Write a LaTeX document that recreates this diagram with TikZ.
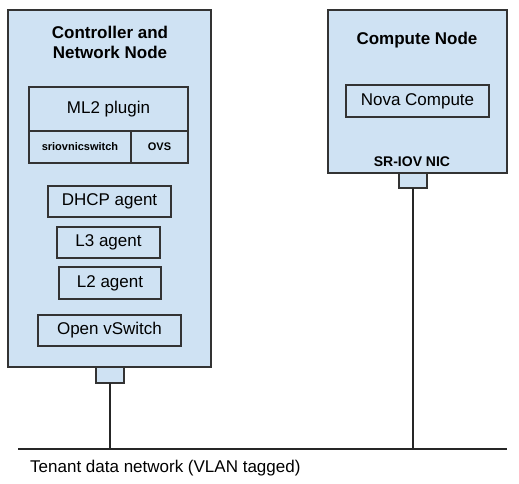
\documentclass[tikz,border=0pt]{standalone}
\usepackage{fontspec}
\setmainfont{Liberation Sans}
\begin{document}
\begin{tikzpicture}[x=1pt,y=-1pt,
  box/.style={draw=black!80,line width=1.2pt,fill=nodeblue,inner sep=0pt,outer sep=0pt},
  lbl/.style={inner sep=0pt,font=\fontsize{17}{20}\selectfont},
  ttl/.style={inner sep=0pt,align=center,font=\fontsize{17}{20}\selectfont\bfseries},
  small/.style={font=\fontsize{11}{13}\selectfont\bfseries},
  wire/.style={draw=black!85,line width=1.2pt}]
\definecolor{nodeblue}{HTML}{CFE2F3}
\useasboundingbox (0,0) rectangle (519,484);
% controller node
\node[box,minimum width=203pt,minimum height=357pt] (ctrl) at (109.5,188.5) {};
\node[ttl] (ctrlt) at (110,42) {Controller and\\Network Node};
\node[box,lbl,minimum width=159pt,minimum height=44pt] (ml2) at (108.5,109) {ML2 plugin};
\node[box,small,minimum width=102pt,minimum height=32pt] (sriov) at (80,147) {sriovnicswitch};
\node[box,small,minimum width=57pt,minimum height=32pt] (ovs) at (159.5,147) {OVS};
\node[box,lbl,minimum width=123pt,minimum height=31pt] (dhcp) at (109.5,201.5) {DHCP agent};
\node[box,lbl,minimum width=103pt,minimum height=31pt] (l3) at (108.5,242.5) {L3 agent};
\node[box,lbl,minimum width=102pt,minimum height=32pt] (l2) at (110,283) {L2 agent};
\node[box,lbl,minimum width=143pt,minimum height=31pt] (ovsw) at (109.5,330.5) {Open vSwitch};
\node[box,minimum width=28pt,minimum height=16pt] (lport) at (110,375) {};
% compute node
\node[box,minimum width=179pt,minimum height=163pt] (comp) at (417.5,91.5) {};
\node[ttl] (compt) at (417,40) {Compute Node};
\node[box,lbl,minimum width=143pt,minimum height=32pt] (nova) at (417.5,101) {Nova Compute};
\node[inner sep=0pt,font=\fontsize{14}{16}\selectfont\bfseries] (nic) at (412,162) {SR-IOV NIC};
\node[box,minimum width=28pt,minimum height=15pt] (rport) at (413,180.5) {};
% network
\coordinate (busl) at (18,449);
\coordinate (busr) at (507,449);
\coordinate (tapl) at (110,449);
\coordinate (tapr) at (413,449);
\draw[wire] (busl) -- (busr);
\draw[wire] (lport.south) -- (tapl);
\draw[wire] (rport.south) -- (tapr);
\node[lbl,anchor=west] (net) at (30,468) {Tenant data network (VLAN tagged)};
\end{tikzpicture}
\end{document}
